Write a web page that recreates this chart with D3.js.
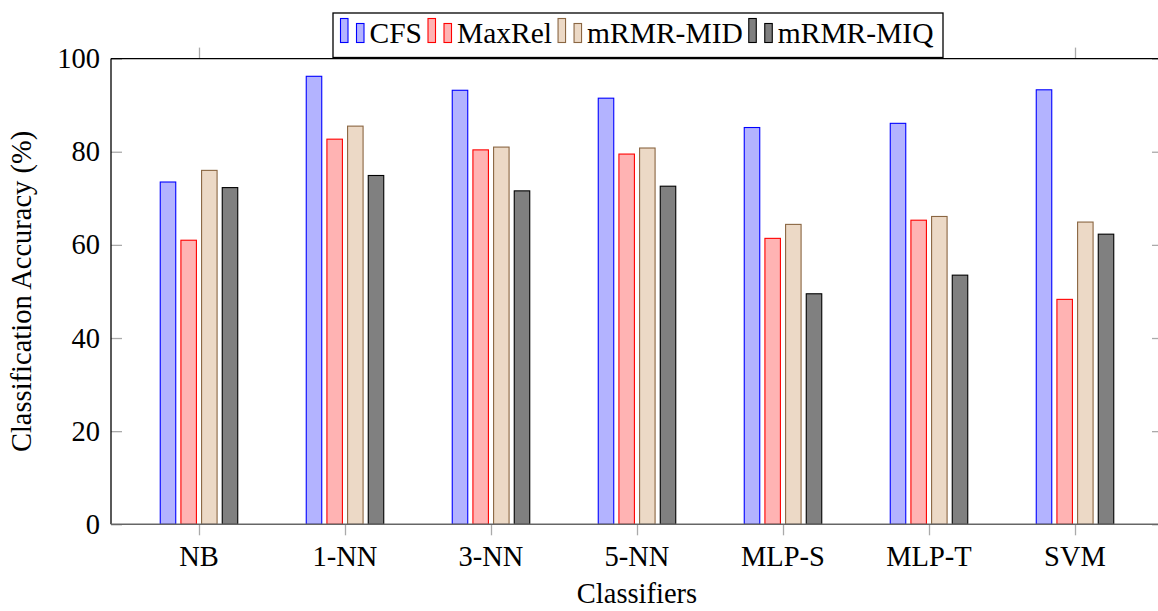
<!DOCTYPE html>
<html><head><meta charset="utf-8">
<script src="https://cdn.jsdelivr.net/npm/d3@7/dist/d3.min.js"></script>
<style>html,body{margin:0;padding:0;background:#fff;overflow:hidden}svg{display:block}</style>
</head><body><svg id="c" width="1158" height="611"></svg>
<script>
const categories = ["NB","1-NN","3-NN","5-NN","MLP-S","MLP-T","SVM"];
const seriesNames = ["CFS","MaxRel","mRMR-MID","mRMR-MIQ"];
const cfs    = [73.5, 96.2, 93.2, 91.5, 85.2, 86.1, 93.3];
const maxRel = [61.0, 82.7, 80.4, 79.5, 61.4, 65.3, 48.3];
const mid    = [76.0, 85.5, 81.0, 80.8, 64.4, 66.1, 64.9];
const miq    = [72.3, 74.9, 71.6, 72.6, 49.5, 53.5, 62.3];
const yTicks = [0,20,40,60,80,100];
const fills   = ["#b3b3ff","#ffb3b3","#ecd9c6","#808080"];
const strokes = ["#0000ff","#ff0000","#8a6642","#000000"];

const values = [cfs, maxRel, mid, miq];
const svg = d3.select("#c");
const FONT = "'Liberation Serif','Times New Roman',serif";
const FS = 28.5;
const L = 111, R = 1163, T = 58.6, B = 524.3;

const x = d3.scalePoint().domain(categories).range([L, R]).padding(0.6027);
const off = d3.scalePoint().domain(seriesNames).range([-31, 31]);
const y = d3.scaleLinear().domain([0, 100]).range([B, T]);
const bw = 15.5;

// bars
seriesNames.forEach((s, si) => {
  svg.append("g").selectAll("rect").data(categories).join("rect")
    .attr("x", c => x(c) + off(s) - bw/2)
    .attr("y", (c, i) => y(values[si][i]))
    .attr("width", bw)
    .attr("height", (c, i) => y(0) - y(values[si][i]))
    .attr("fill", fills[si])
    .attr("stroke", strokes[si])
    .attr("stroke-width", 1.1);
});

// ticks
const tickCol = "#aaaaaa";
const gyL = svg.append("g").attr("transform", `translate(${L},0)`)
  .call(d3.axisRight(y).tickValues(yTicks).tickSize(11).tickFormat(""));
const gyR = svg.append("g").attr("transform", `translate(${R},0)`)
  .call(d3.axisLeft(y).tickValues(yTicks).tickSize(11).tickFormat(""));
const gxB = svg.append("g").attr("transform", `translate(0,${B})`)
  .call(d3.axisBottom(x).tickSize(11).tickFormat(""));
const gxT = svg.append("g").attr("transform", `translate(0,${T})`)
  .call(d3.axisTop(x).tickSize(11).tickFormat(""));
[gyL, gyR, gxB, gxT].forEach(g => {
  g.select(".domain").remove();
  g.selectAll("line").attr("stroke", tickCol).attr("stroke-width", 1.3);
});

// frame
svg.append("line").attr("x1", L).attr("x2", R).attr("y1", T).attr("y2", T).attr("stroke", "#000").attr("stroke-width", 1.3);
svg.append("line").attr("x1", L).attr("x2", L).attr("y1", T).attr("y2", B).attr("stroke", "#000").attr("stroke-width", 1.3);
svg.append("line").attr("x1", R).attr("x2", R).attr("y1", T).attr("y2", B).attr("stroke", "#000").attr("stroke-width", 1.3);
svg.append("line").attr("x1", L).attr("x2", R).attr("y1", B).attr("y2", B).attr("stroke", "#666").attr("stroke-width", 1.4);

function txt(sel, fs) {
  return sel.attr("font-family", FONT).attr("font-size", fs || FS);
}

// tick labels
svg.append("g").selectAll("text").data(yTicks).join("text")
  .attr("x", 100).attr("y", d => y(d) + 9.5)
  .attr("text-anchor", "end").call(txt)
  .text(d => d);
svg.append("g").selectAll("text").data(categories).join("text")
  .attr("x", d => x(d)).attr("y", 566)
  .attr("text-anchor", "middle").call(txt)
  .text(d => d);

// axis titles
svg.append("text").attr("x", 637).attr("y", 603).attr("text-anchor", "middle")
  .call(txt).text("Classifiers");
svg.append("text").attr("transform", `translate(31,${(T+B)/2}) rotate(-90)`)
  .attr("text-anchor", "middle").call(txt)
  .text("Classification Accuracy (%)");

// legend
const lg = svg.append("g");
lg.append("rect").attr("x", 333).attr("y", 13).attr("width", 610).attr("height", 44.5)
  .attr("fill", "#fff").attr("stroke", "#000").attr("stroke-width", 1.3);
let lx = 340.5;
seriesNames.forEach((s, si) => {
  lg.append("rect").attr("x", lx).attr("y", 18.5).attr("width", 7.5).attr("height", 24)
    .attr("fill", fills[si]).attr("stroke", strokes[si]).attr("stroke-width", 1.1);
  lg.append("rect").attr("x", lx + 16).attr("y", 23.5).attr("width", 7.5).attr("height", 19)
    .attr("fill", fills[si]).attr("stroke", strokes[si]).attr("stroke-width", 1.1);
  const t = lg.append("text").attr("x", lx + 29).attr("y", 42.5).call(txt, 29.5).text(s);
  lx = lx + 29 + t.node().getComputedTextLength() + 6;
});
</script></body></html>
